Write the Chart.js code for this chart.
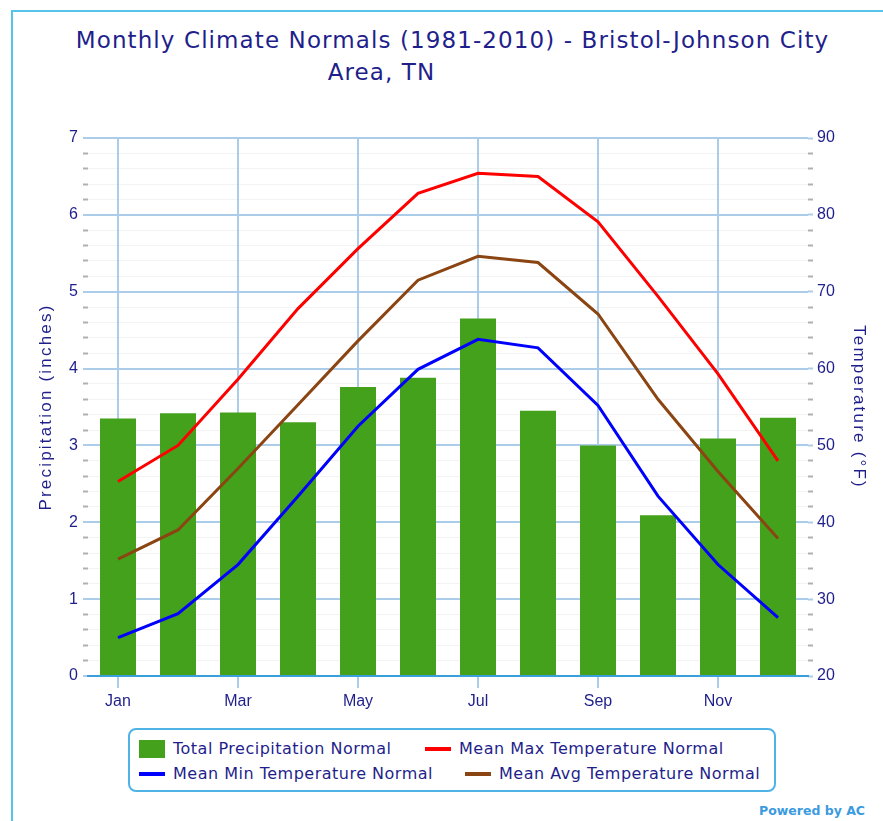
<!DOCTYPE html>
<html>
<head>
<meta charset="utf-8">
<script src="https://cdn.jsdelivr.net/npm/chart.js@4.4.0/dist/chart.umd.min.js"></script>
<style>
  html, body { margin: 0; padding: 0; background: #fff; }
  body { width: 883px; height: 821px; overflow: hidden; position: relative; font-family: "DejaVu Sans", sans-serif; }
  .frame { position: absolute; left: 11px; top: 10px; width: 900px; height: 900px;
           border-top: 2px solid #55c3ea; border-left: 2px solid #55c3ea; }
  .title { position: absolute; left: 11px; top: 24px; width: 883px; text-align: center;
           font-family: "DejaVu Sans", sans-serif; letter-spacing: 1.1px;
           font-size: 23px; line-height: 32px; color: #1f1f8c; }
  .title span { display: block; }
  #wrap { position: absolute; left: 0; top: 0; width: 883px; height: 720px; }
  .legend { position: absolute; left: 128px; top: 728px; width: 644px; height: 60px;
            border: 2px solid #4fb3e6; border-radius: 8px; }
  .item { position: absolute; font-size: 16px; letter-spacing: 0.5px; color: #1f1f8c; white-space: nowrap; line-height: 18px; }
  .swatch { position: absolute; }
  .powered { position: absolute; right: 18px; top: 803px; font-size: 12.5px; font-weight: bold; color: #3b9be0; }
</style>
</head>
<body>
<div class="frame"></div>
<div class="title"><span>Monthly Climate Normals (1981-2010) - Bristol-Johnson City</span><span style="padding-right:142px">Area, TN</span></div>
<div id="wrap"><canvas id="myChart" width="883" height="720"></canvas></div>
<div class="legend" id="legend"></div>
<div class="powered">Powered by AC</div>
<script>
// data
var months = ['Jan', 'Feb', 'Mar', 'Apr', 'May', 'Jun', 'Jul', 'Aug', 'Sep', 'Oct', 'Nov', 'Dec'];
var precip = [3.35, 3.42, 3.43, 3.30, 3.76, 3.88, 4.65, 3.45, 3.00, 2.09, 3.09, 3.36];
var maxTemp = [45.3, 50.0, 58.6, 67.8, 75.6, 82.8, 85.4, 85.0, 79.1, 69.4, 59.3, 48.0];
var minTemp = [25.0, 28.1, 34.5, 43.4, 52.5, 59.9, 63.8, 62.7, 55.2, 43.4, 34.5, 27.6];
var avgTemp = [35.2, 39.0, 47.0, 55.3, 63.6, 71.5, 74.6, 73.8, 67.1, 56.0, 46.6, 37.9];
var precipTicks = [0, 7];
var tempTicks = [20, 90];

var navy = '#1f1f8c';
var gridBlue = '#abcdea';

function isWhole(v, step) {
  var r = v / step;
  return Math.abs(r - Math.round(r)) < 1e-6;
}

// axis titles in the original are widely spaced; tick labels are not
var titleSpacing = {
  id: 'titleSpacing',
  beforeDraw: function (chart) { chart.ctx.letterSpacing = '2.2px'; },
  beforeDatasetsDraw: function (chart) { chart.ctx.letterSpacing = '0px'; }
};

var ctx = document.getElementById('myChart');
var myChart = new Chart(ctx, {
  type: 'bar',
  data: {
    labels: months,
    datasets: [
      {
        label: 'Total Precipitation Normal',
        data: precip,
        backgroundColor: '#44a11b',
        barPercentage: 0.6,
        categoryPercentage: 1.0,
        yAxisID: 'y',
        order: 1
      },
      {
        type: 'line',
        label: 'Mean Max Temperature Normal',
        data: maxTemp,
        borderColor: '#ff0000',
        borderWidth: 3,
        pointRadius: 0,
        tension: 0,
        yAxisID: 'y1',
        order: 0
      },
      {
        type: 'line',
        label: 'Mean Min Temperature Normal',
        data: minTemp,
        borderColor: '#0000ff',
        borderWidth: 3,
        pointRadius: 0,
        tension: 0,
        yAxisID: 'y1',
        order: 0
      },
      {
        type: 'line',
        label: 'Mean Avg Temperature Normal',
        data: avgTemp,
        borderColor: '#8b4513',
        borderWidth: 3,
        pointRadius: 0,
        tension: 0,
        yAxisID: 'y1',
        order: 0
      }
    ]
  },
  plugins: [titleSpacing],
  options: {
    responsive: false,
    animation: false,
    devicePixelRatio: 1,
    layout: { padding: { top: 138, left: 0, right: 0, bottom: 0 } },
    plugins: {
      legend: { display: false },
      title: { display: false },
      tooltip: { enabled: false }
    },
    scales: {
      x: {
        offset: true,
        grid: { offset: false, color: gridBlue, lineWidth: 2, tickLength: 12 },
        border: { color: '#3aa0dc', width: 2 },
        ticks: { z: 1, autoSkip: true, maxTicksLimit: 6, maxRotation: 0, padding: 4, color: navy, font: { size: 16 } },
        afterFit: function (scale) { scale.height = 44; }
      },
      y: {
        position: 'left',
        min: precipTicks[0],
        max: precipTicks[1],
        ticks: {
          z: 1,
          stepSize: 0.2,
          autoSkip: false,
          padding: 5,
          color: navy,
          font: { size: 16 },
          callback: function (v) { return isWhole(v, 1) ? String(Math.round(v)) : ''; }
        },
        grid: {
          tickLength: 5,
          color: function (c) { return isWhole(c.tick.value, 1) ? gridBlue : 'rgba(190,190,190,0.18)'; },
          lineWidth: function (c) { return isWhole(c.tick.value, 1) ? 2 : 1; },
          tickColor: function (c) { return isWhole(c.tick.value, 1) ? gridBlue : '#b0b0b0'; },
          tickWidth: 2
        },
        border: { display: false },
        title: { display: true, text: 'Precipitation (inches)', color: navy, font: { size: 17 }, padding: { top: 36 } },
        afterFit: function (scale) { scale.width = 88; }
      },
      y1: {
        position: 'right',
        min: tempTicks[0],
        max: tempTicks[1],
        ticks: {
          z: 1,
          stepSize: 2,
          autoSkip: false,
          padding: 4,
          color: navy,
          font: { size: 16 },
          callback: function (v) { return isWhole(v, 10) ? String(Math.round(v)) : ''; }
        },
        grid: {
          drawOnChartArea: false,
          tickLength: 5,
          tickColor: function (c) { return isWhole(c.tick.value, 10) ? gridBlue : '#b0b0b0'; },
          tickWidth: 2
        },
        border: { display: false },
        title: { display: true, text: 'Temperature (°F)', color: navy, font: { size: 17 }, padding: { top: 14 } },
        afterFit: function (scale) { scale.width = 75; }
      }
    }
  }
});

// legend box, laid out like the original (two rows, left aligned)
var legendPos = [
  { left: 9, top: 19, kind: 'bar' },
  { left: 295, top: 19, kind: 'line' },
  { left: 9, top: 44, kind: 'line' },
  { left: 335, top: 44, kind: 'line' }
];
var legendEl = document.getElementById('legend');
myChart.data.datasets.forEach(function (ds, i) {
  var p = legendPos[i];
  var sw = document.createElement('div');
  sw.className = 'swatch';
  if (p.kind === 'bar') {
    sw.style.cssText = 'left:' + p.left + 'px;top:' + (p.top - 9) + 'px;width:26px;height:18px;background:' + ds.backgroundColor;
  } else {
    sw.style.cssText = 'left:' + p.left + 'px;top:' + (p.top - 2) + 'px;width:26px;height:4px;background:' + ds.borderColor;
  }
  legendEl.appendChild(sw);
  var tx = document.createElement('div');
  tx.className = 'item';
  tx.style.left = (p.left + 34) + 'px';
  tx.style.top = (p.top - 9) + 'px';
  tx.textContent = ds.label;
  legendEl.appendChild(tx);
});
</script>
</body>
</html>
